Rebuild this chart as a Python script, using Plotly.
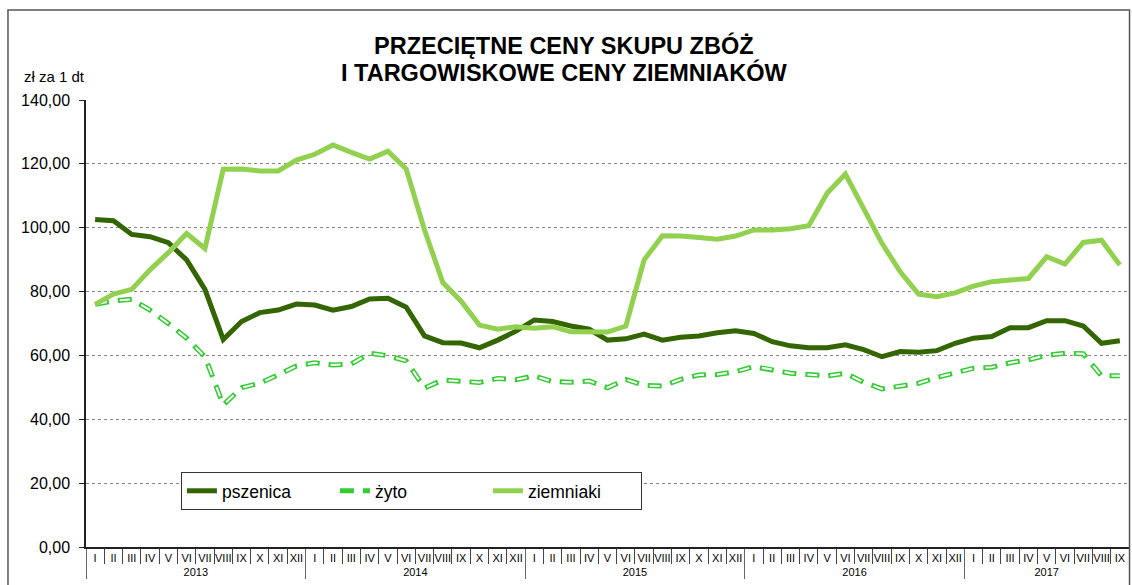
import plotly.graph_objects as go

roman = ["I", "II", "III", "IV", "V", "VI", "VII", "VIII", "IX", "X", "XI", "XII"]
years = ["2013", "2014", "2015", "2016", "2017"]
n_months = 57

month_labels = [roman[i % 12] for i in range(n_months)]
year_labels = [years[i // 12] for i in range(n_months)]

pszenica = [102.6, 102.2, 97.9, 97.2, 95.3, 89.9, 80.7, 65.0, 70.6, 73.4, 74.2, 76.1,
            75.8, 74.2, 75.3, 77.7, 77.9, 75.1, 66.1, 64.0, 63.9, 62.4, 64.8, 67.6,
            71.1, 70.6, 69.2, 68.2, 64.8, 65.2, 66.7, 64.8, 65.7, 66.1, 67.1, 67.7,
            66.9, 64.3, 63.0, 62.4, 62.4, 63.3, 61.8, 59.6, 61.2, 61.0, 61.5, 63.8,
            65.4, 65.9, 68.7, 68.7, 70.9, 70.9, 69.2, 63.8, 64.6]

zyto = [76.0, 77.1, 77.6, 74.2, 70.0, 65.4, 59.6, 44.5, 49.9, 51.3, 53.9, 56.7,
        57.7, 57.0, 57.3, 60.7, 59.9, 58.3, 49.8, 52.3, 51.9, 51.5, 52.8, 52.4,
        53.6, 51.8, 51.6, 52.0, 49.9, 52.5, 50.6, 50.4, 52.5, 53.9, 54.0, 54.9,
        56.5, 55.6, 54.4, 54.0, 53.6, 54.4, 51.6, 49.5, 50.4, 51.3, 53.1, 54.6,
        56.0, 56.3, 57.7, 58.6, 60.1, 60.7, 60.5, 53.6, 53.6]

ziemniaki = [76.0, 79.2, 80.7, 86.8, 92.2, 98.2, 93.5, 118.3, 118.4, 117.8, 117.8, 121.2,
             123.0, 125.9, 123.6, 121.5, 124.0, 118.4, 99.3, 82.8, 77.0, 69.5, 68.2, 69.0,
             68.5, 69.0, 67.4, 67.3, 67.3, 69.2, 89.9, 97.5, 97.4, 96.9, 96.4, 97.4,
             99.3, 99.3, 99.7, 100.6, 110.8, 116.8, 106.1, 95.1, 86.2, 79.2, 78.4, 79.6,
             81.7, 83.1, 83.6, 84.1, 90.9, 88.6, 95.4, 96.1, 88.3]

x = [year_labels, month_labels]

fig = go.Figure()
fig.add_trace(go.Scatter(x=x, y=pszenica, mode="lines", name="pszenica",
                         line=dict(color="#336600", width=5)))
fig.add_trace(go.Scatter(x=x, y=zyto, mode="lines", name="żyto",
                         line=dict(color="#33CC33", width=5, dash="14px,9px")))
fig.add_trace(go.Scatter(x=x, y=zyto, mode="lines", name="żyto", showlegend=False,
                         hoverinfo="skip",
                         line=dict(color="white", width=2, dash="0px,2px,10px,11px")))
fig.add_trace(go.Scatter(x=x, y=ziemniaki, mode="lines", name="ziemniaki",
                         line=dict(color="#92D050", width=5)))

title_font = dict(family="Liberation Sans, Arial, sans-serif", size=23.5, color="black",
                  weight="bold")

fig.update_layout(
    width=1132, height=585,
    margin=dict(l=86, r=3, t=100, b=38, autoexpand=False),
    paper_bgcolor="white", plot_bgcolor="white",
    font=dict(family="Liberation Sans, Arial, sans-serif", color="black", size=15),
    showlegend=True,
    legend=dict(orientation="h", x=0.091, xanchor="left", y=0.168, yanchor="top",
                bgcolor="white", bordercolor="#333333", borderwidth=1,
                font=dict(size=17.5), entrywidth=108,
                tracegroupgap=0),
    annotations=[
        dict(text="PRZECIĘTNE CENY SKUPU ZBÓŻ", xref="paper", yref="paper",
             x=0.458, y=1.123, xanchor="center", yanchor="middle",
             showarrow=False, font=title_font),
        dict(text="I TARGOWISKOWE CENY ZIEMNIAKÓW", xref="paper", yref="paper",
             x=0.458, y=1.0626, xanchor="center", yanchor="middle",
             showarrow=False, font=title_font),
        dict(text="zł za 1 dt", xref="paper", yref="paper",
             x=-0.0614, y=1.0515, xanchor="left", yanchor="middle",
             showarrow=False, font=dict(size=15)),
    ],
    shapes=[dict(type="rect", xref="paper", yref="paper",
                 x0=-0.0748, x1=1.0005, y0=-0.2, y1=1.2013,
                 line=dict(color="#555555", width=1.5), layer="above")],
)

fig.update_yaxes(range=[0, 140], dtick=20, tickformat=".2f",
                 showgrid=True, gridcolor="#888888", griddash="dot", gridwidth=1,
                 showline=True, linecolor="#222222", linewidth=1.5,
                 ticks="outside", ticklen=5, tickcolor="#222222",
                 ticklabelstandoff=6,
                 tickfont=dict(size=16), zeroline=False)
fig.update_xaxes(type="multicategory", range=[-0.5, n_months - 0.5],
                 showline=True, linecolor="#222222", linewidth=1.5,
                 ticks="outside", ticklen=15, tickcolor="#444444", tickangle=0,
                 tickfont=dict(size=11), dividercolor="#666666", dividerwidth=1,
                 showgrid=False)
fig.update_layout(separators=",.")

fig.write_html("out.html", config={"displayModeBar": False},
               post_script="document.body.style.margin='0';document.body.style.overflow='hidden';")
